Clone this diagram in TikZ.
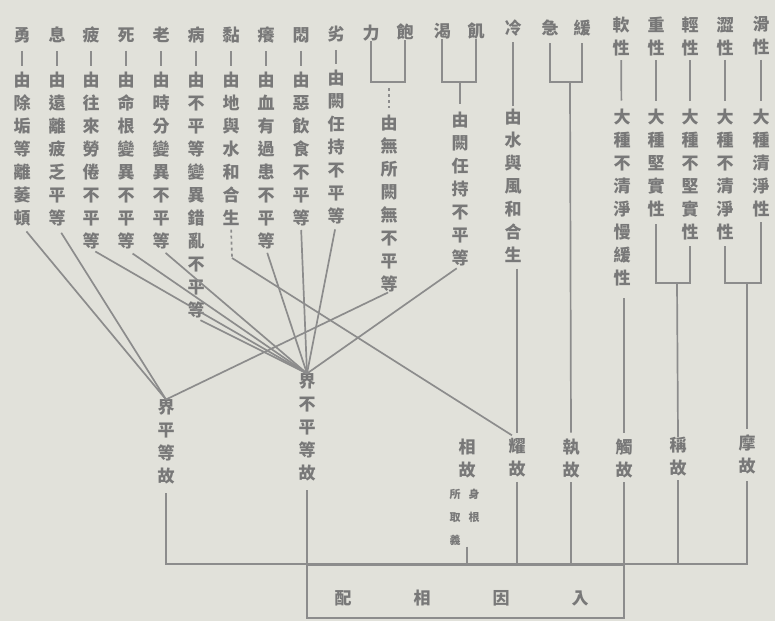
\documentclass[tikz,border=0pt]{standalone}
\usepackage{fontspec}
\newfontfamily\cjk{Noto Sans CJK TC}
\definecolor{paper}{RGB}{225,225,218}
\definecolor{ink}{RGB}{120,120,120}
\definecolor{rule}{RGB}{140,140,140}
\begin{document}
\begin{tikzpicture}[x=1pt, y=-1pt]
\tikzstyle{every node}=[inner sep=0pt, text=ink, font=\cjk\bfseries\fontsize{17}{23}\selectfont]
\tikzstyle{col}=[align=center, anchor=north]
\tikzstyle{smallcol}=[col, font=\cjk\bfseries\fontsize{11}{23}\selectfont]
\tikzstyle{conn}=[draw=rule, line width=1.7pt]
\fill[paper] (0,0) rectangle (775,621);
\node (yong) at (22,35) {勇};
\node (xi) at (57,35) {息};
\node (pi) at (91,35) {疲};
\node (si) at (126,35) {死};
\node (lao) at (161,35) {老};
\node (bing) at (196,35) {病};
\node (nian) at (231,35) {黏};
\node (yang) at (266,35) {癢};
\node (men) at (301,35) {悶};
\node (lie) at (336,34) {劣};
\node (li) at (371,33) {力};
\node (bao) at (405,32) {飽};
\node (ke) at (442,31) {渴};
\node (ji) at (476,31) {飢};
\node (leng) at (513,28) {冷};
\node (jin) at (550,28) {急};
\node (huan) at (582,28) {緩};
\node[col] (ruan) at (621,16.5) {軟\\性};
\node[col] (zhong) at (656,16.5) {重\\性};
\node[col] (qing) at (690,16.5) {輕\\性};
\node[col] (se) at (725,16.5) {澀\\性};
\node[col] (hua) at (761,16.5) {滑\\性};
\node[col] (yong-d) at (22,71.5) {由\\除\\垢\\等\\離\\萎\\頓};
\node[col] (xi-d) at (57,71.5) {由\\遠\\離\\疲\\乏\\平\\等};
\node[col] (pi-d) at (91,71.5) {由\\往\\來\\勞\\倦\\不\\平\\等};
\node[col] (si-d) at (126,71.5) {由\\命\\根\\變\\異\\不\\平\\等};
\node[col] (lao-d) at (161,71.5) {由\\時\\分\\變\\異\\不\\平\\等};
\node[col] (bing-d) at (196,71.5) {由\\不\\平\\等\\變\\異\\錯\\亂\\不\\平\\等};
\node[col] (nian-d) at (231,71.5) {由\\地\\與\\水\\和\\合\\生};
\node[col] (yang-d) at (266,71.5) {由\\血\\有\\過\\患\\不\\平\\等};
\node[col] (men-d) at (301,71.5) {由\\惡\\飲\\食\\不\\平\\等};
\node[col] (lie-d) at (336,70) {由\\闕\\任\\持\\不\\平\\等};
\node[col] (libao-d) at (389,114.5) {由\\無\\所\\闕\\無\\不\\平\\等};
\node[col] (keji-d) at (460,111.5) {由\\闕\\任\\持\\不\\平\\等};
\node[col] (leng-d) at (513,108.5) {由\\水\\與\\風\\和\\合\\生};
\node[col] (ruan-d) at (622,108.5) {大\\種\\不\\清\\淨\\慢\\緩\\性};
\node[col] (zhong-d) at (656,108.5) {大\\種\\堅\\實\\性};
\node[col] (qing-d) at (690,108.5) {大\\種\\不\\堅\\實\\性};
\node[col] (se-d) at (725,108.5) {大\\種\\不\\清\\淨\\性};
\node[col] (hua-d) at (761,108.5) {大\\種\\清\\淨\\性};
\node[col] (jp) at (166,399.5) {界\\平\\等\\故};
\node[col] (jbp) at (307,373.5) {界\\不\\平\\等\\故};
\node[col] (xiang) at (467,438.5) {相\\故};
\node[col] (yao) at (517,438.5) {耀\\故};
\node[col] (zhi) at (571,438.5) {執\\故};
\node[col] (chu) at (624,438.5) {觸\\故};
\node[col] (cheng) at (678,437) {稱\\故};
\node[col] (mo) at (747,435) {摩\\故};
\node[smallcol] (suoqu) at (455,489) {所\\取\\義};
\node[smallcol] (shengen) at (474,489) {身\\根};
\node[draw=rule, line width=1.7pt, minimum width=317pt, minimum height=53pt] (rk) at (465.5,591.5) {};
\node (rk-t) at (461.5,598) {配\hspace{62pt}相\hspace{62pt}因\hspace{62pt}入};
\coordinate (libao) at (389,82);
\coordinate (keji) at (460,82);
\coordinate (jinhuan) at (570,82);
\coordinate (zhongqing) at (677,283);
\coordinate (sehua) at (747,283);
\coordinate (nian-k) at (232,258);
\draw[conn, shorten <=8pt, shorten >=6pt] (yong) -- (yong-d);
\draw[conn, shorten <=8pt, shorten >=6pt] (xi) -- (xi-d);
\draw[conn, shorten <=8pt, shorten >=6pt] (pi) -- (pi-d);
\draw[conn, shorten <=8pt, shorten >=6pt] (si) -- (si-d);
\draw[conn, shorten <=8pt, shorten >=6pt] (lao) -- (lao-d);
\draw[conn, shorten <=8pt, shorten >=6pt] (bing) -- (bing-d);
\draw[conn, shorten <=8pt, shorten >=6pt] (nian) -- (nian-d);
\draw[conn, shorten <=8pt, shorten >=6pt] (yang) -- (yang-d);
\draw[conn, shorten <=8pt, shorten >=6pt] (men) -- (men-d);
\draw[conn, shorten <=8pt, shorten >=6pt] (lie) -- (lie-d);
\draw[conn] (li) |- (libao) -| (bao);
\draw[conn, dashed, shorten <=6pt, shorten >=7pt] (libao) -- (libao-d);
\draw[conn] (ke) |- (keji) -| (ji);
\draw[conn, shorten >=8pt] (keji) -- (keji-d);
\draw[conn, shorten <=6pt, shorten >=3pt] (leng) -- (leng-d);
\draw[conn, shorten <=7pt, shorten >=7pt] (jin) |- (jinhuan) -| (huan);
\draw[conn, shorten <=4pt, shorten >=8pt] (ruan) -- (ruan-d);
\draw[conn, shorten <=4pt, shorten >=8pt] (zhong) -- (zhong-d);
\draw[conn, shorten <=4pt, shorten >=8pt] (qing) -- (qing-d);
\draw[conn, shorten <=4pt, shorten >=8pt] (se) -- (se-d);
\draw[conn, shorten <=4pt, shorten >=8pt] (hua) -- (hua-d);
\draw[conn, shorten <=7pt, shorten >=6pt] (zhong-d) |- (zhongqing) -| (qing-d);
\draw[conn, shorten <=6pt, shorten >=5pt] (se-d) |- (sehua) -| (hua-d);
\draw[conn, shorten <=7pt] (yong-d.south) -- (jp.north);
\draw[conn, shorten <=8pt] (xi-d.south) -- (jp.north);
\draw[conn, shorten <=1pt] (libao-d.south) -- (jp.north);
\draw[conn, shorten <=5pt] (pi-d.south) -- (jbp.north);
\draw[conn, shorten <=8pt] (si-d.south) -- (jbp.north);
\draw[conn, shorten <=6pt] (lao-d.south) -- (jbp.north);
\draw[conn, shorten <=5pt] (bing-d.south) -- (jbp.north);
\draw[conn, shorten <=4pt] (yang-d.south) -- (jbp.north);
\draw[conn, shorten <=4pt] (men-d.south) -- (jbp.north);
\draw[conn, shorten <=5pt] (lie-d.south) -- (jbp.north);
\draw[conn, shorten <=4pt] (keji-d.south) -- (jbp.north);
\draw[conn, dashed, shorten <=4pt] (nian-d.south) -- (nian-k);
\draw[conn, shorten >=6pt] (nian-k) -- (yao.north);
\draw[conn, shorten <=6pt, shorten >=6pt] (leng-d.south -| yao) -- (yao.north);
\draw[conn, shorten >=6pt] (jinhuan) -- (zhi.north);
\draw[conn, shorten <=12pt, shorten >=6pt] (ruan-d.south -| chu) -- (chu.north);
\draw[conn] (zhongqing) -- (cheng.north);
\draw[conn, shorten >=6pt] (sehua) -- (mo.north);
\draw[conn, shorten <=9pt, shorten >=6pt] (jp) |- (rk.north -| mo) -- (mo);
\draw[conn, shorten <=9pt] (jbp) -- (jbp |- rk.north);
\draw[conn, shorten <=4pt] (yao) -- (yao |- rk.north);
\draw[conn, shorten <=4pt] (zhi) -- (zhi |- rk.north);
\draw[conn, shorten <=4pt] (chu) -- (chu |- rk.north);
\draw[conn, shorten <=4pt] (cheng) -- (cheng |- rk.north);
\draw[conn, shorten <=1pt] (suoqu.south -| xiang) -- (xiang |- rk.north);
\end{tikzpicture}
\end{document}
